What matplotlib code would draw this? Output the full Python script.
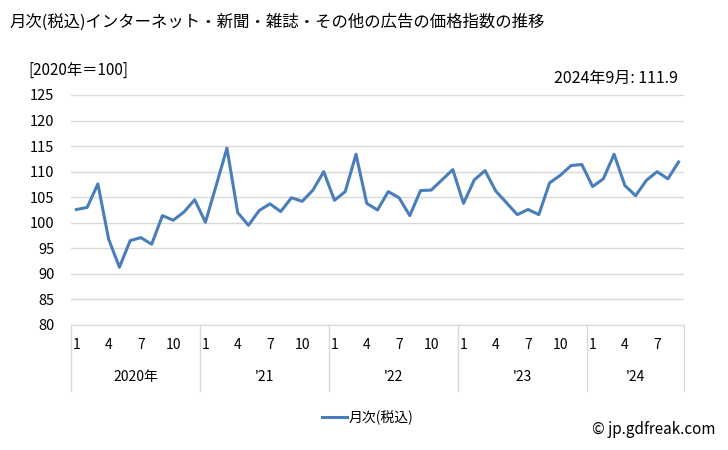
"""
月次(税込)インターネット・新聞・雑誌・その他の広告の価格指数の推移 (2020年=100).

Line chart of the monthly index, Jan 2020 – Sep 2024, drawn on a
two-level category axis (month / year). Writes out.png.
"""

import matplotlib

matplotlib.use("Agg")
import matplotlib.pyplot as plt
import matplotlib.transforms as mtransforms

plt.rcParams["font.family"] = ["Noto Sans CJK JP", "DejaVu Sans"]

# monthly values, Jan 2020 .. Sep 2024
values_2020 = [102.6, 103.0, 107.6, 96.8, 91.3, 96.5, 97.1, 95.8, 101.4, 100.5, 102.1, 104.5]
values_2021 = [100.1, 107.3, 114.6, 102.0, 99.5, 102.4, 103.7, 102.2, 104.9, 104.2, 106.4, 110.0]
values_2022 = [104.4, 106.1, 113.4, 103.8, 102.5, 106.1, 104.9, 101.4, 106.3, 106.4, 108.4, 110.4]
values_2023 = [103.8, 108.4, 110.2, 106.2, 103.9, 101.6, 102.6, 101.6, 107.8, 109.3, 111.2, 111.4]
values_2024 = [107.1, 108.6, 113.4, 107.3, 105.3, 108.3, 110.0, 108.6, 111.9]

year_labels = ["2020年", "'21", "'22", "'23", "'24"]
month_ticks = ["1", "4", "7", "10"]
series_name = "月次(税込)"
latest_note = "2024年9月: 111.9"

LINE_COLOR = "#4a7ebb"
GRID_COLOR = "#d9d9d9"


def main() -> None:
    years = [values_2020, values_2021, values_2022, values_2023, values_2024]
    values = [v for year in years for v in year]
    xs = list(range(len(values)))

    fig = plt.figure(figsize=(7.28, 4.5), dpi=100)
    ax = fig.add_axes([71 / 728, 1 - 325 / 450, 613 / 728, 230 / 450])

    ax.plot(xs, values, color=LINE_COLOR, linewidth=2.2, label=series_name)

    ax.set_xlim(-0.5, len(values) - 0.5)
    ax.set_ylim(80, 125)
    ax.set_yticks(range(80, 126, 5))
    ax.tick_params(axis="y", length=0, labelsize=10.5, pad=12)
    ax.grid(axis="y", color=GRID_COLOR, linewidth=1)
    ax.set_axisbelow(True)
    for side in ("top", "right", "left"):
        ax.spines[side].set_visible(False)
    ax.spines["bottom"].set_color(GRID_COLOR)
    ax.set_xticks([])

    # two-level category axis: months above, years below, separated by vertical rules
    trans = mtransforms.blended_transform_factory(ax.transData, ax.transAxes)
    start = 0
    for label, year in zip(year_labels, years):
        for m, name in enumerate(month_ticks):
            idx = start + m * 3
            if m * 3 < len(year):
                ax.text(idx, -0.085, name, transform=trans, ha="center", va="center", fontsize=10)
        ax.text(start + (len(year) - 1) / 2, -0.225, label, transform=trans,
                ha="center", va="center", fontsize=10)
        ax.plot([start - 0.5, start - 0.5], [0, -0.285], transform=trans,
                color=GRID_COLOR, linewidth=1, clip_on=False)
        start += len(year)
    ax.plot([start - 0.5, start - 0.5], [0, -0.285], transform=trans,
            color=GRID_COLOR, linewidth=1, clip_on=False)

    fig.text(10 / 728, 1 - 22 / 450, "月次(税込)インターネット・新聞・雑誌・その他の広告の価格指数の推移",
             fontsize=11.8, va="center", ha="left")
    fig.text(28 / 728, 1 - 70 / 450, "[2020年＝100]", fontsize=11, va="center", ha="left")
    fig.text(678 / 728, 1 - 78 / 450, latest_note, fontsize=11.5, va="center", ha="right")
    fig.text(715 / 728, 1 - 430 / 450, "© jp.gdfreak.com", fontsize=11, va="center", ha="right")

    fig.legend(loc="center", bbox_to_anchor=(368 / 728, 1 - 418 / 450), frameon=False,
               fontsize=10, handlelength=1.8, handletextpad=0.1)

    fig.savefig("out.png", dpi=100)


if __name__ == "__main__":
    main()
